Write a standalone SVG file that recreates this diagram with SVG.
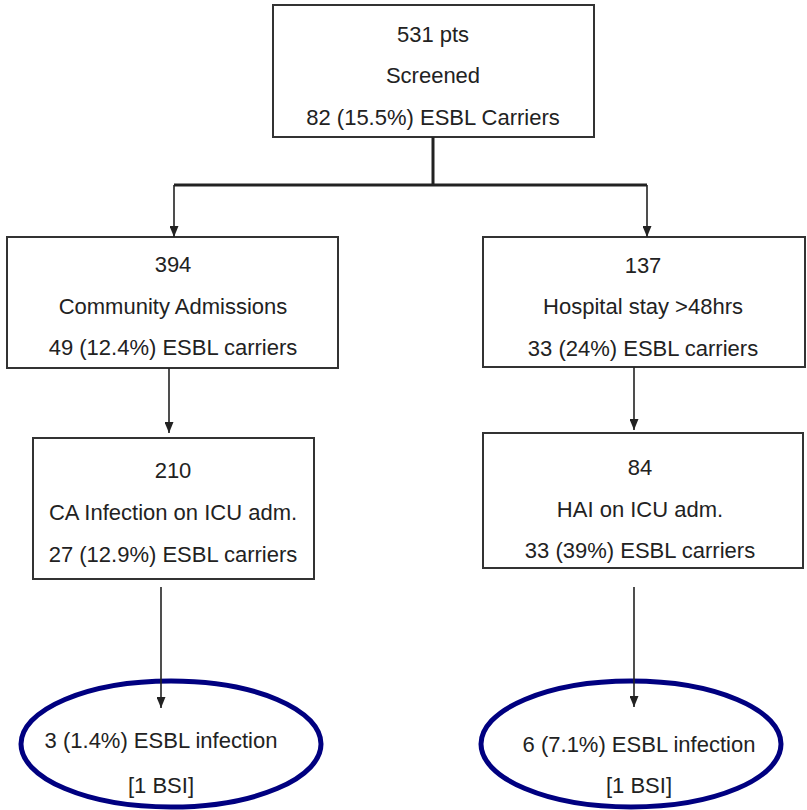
<svg xmlns="http://www.w3.org/2000/svg" width="807" height="810" viewBox="0 0 807 810">
<defs>
<style>
.box{fill:#fff;stroke:#333;stroke-width:2}
.oval{fill:none;stroke:#000080;stroke-width:5}
.t{font-family:"Liberation Sans",Arial,sans-serif;font-size:22px;fill:#222;text-anchor:middle}
.c{fill:none;stroke:#222;stroke-width:1.6}
.ct{fill:none;stroke:#222;stroke-width:3}
</style>
<marker id="ah" markerWidth="11" markerHeight="9" refX="11" refY="4.5" orient="auto" markerUnits="userSpaceOnUse" viewBox="0 0 11 9">
<path d="M0,0 L11,4.5 L0,9 Z" fill="#222"/>
</marker>
</defs>
<rect width="807" height="810" fill="#fff"/>
<g id="n1">
<rect class="box" x="273" y="5" width="321" height="132"/>
<text class="t" x="433" y="42">531 pts</text>
<text class="t" x="433" y="83">Screened</text>
<text class="t" x="433" y="125">82 (15.5%) ESBL Carriers</text>
</g>
<g id="n2">
<rect class="box" x="7" y="237" width="331" height="131"/>
<text class="t" x="173" y="272">394</text>
<text class="t" x="173" y="314">Community Admissions</text>
<text class="t" x="173" y="355">49 (12.4%) ESBL carriers</text>
</g>
<g id="n3">
<rect class="box" x="483" y="237" width="322" height="130"/>
<text class="t" x="643" y="273">137</text>
<text class="t" x="643" y="314">Hospital stay &gt;48hrs</text>
<text class="t" x="643" y="356">33 (24%) ESBL carriers</text>
</g>
<g id="n4">
<rect class="box" x="33" y="438" width="281" height="141"/>
<text class="t" x="173" y="478">210</text>
<text class="t" x="173" y="520">CA Infection on ICU adm.</text>
<text class="t" x="173" y="562">27 (12.9%) ESBL carriers</text>
</g>
<g id="n5">
<rect class="box" x="483" y="433" width="320" height="135"/>
<text class="t" x="640" y="475">84</text>
<text class="t" x="640" y="517">HAI on ICU adm.</text>
<text class="t" x="640" y="558">33 (39%) ESBL carriers</text>
</g>
<g id="n6">
<ellipse class="oval" cx="171" cy="744" rx="150" ry="63"/>
<text class="t" x="161" y="748">3 (1.4%) ESBL infection</text>
<text class="t" x="161" y="793">[1 BSI]</text>
</g>
<g id="n7">
<ellipse class="oval" cx="631" cy="744" rx="150" ry="63"/>
<text class="t" x="639" y="752">6 (7.1%) ESBL infection</text>
<text class="t" x="639" y="793">[1 BSI]</text>
</g>
<g id="connectors">
<path class="ct" d="M433,137 V185 M174,185 H647"/>
<path class="c" d="M174,185 V237" marker-end="url(#ah)"/>
<path class="c" d="M647,185 V237" marker-end="url(#ah)"/>
<path class="c" d="M169,368 V433" marker-end="url(#ah)"/>
<path class="c" d="M634,367 V430" marker-end="url(#ah)"/>
<path class="c" d="M161,587 V708" marker-end="url(#ah)"/>
<path class="c" d="M634,587 V707" marker-end="url(#ah)"/>
</g>
</svg>
